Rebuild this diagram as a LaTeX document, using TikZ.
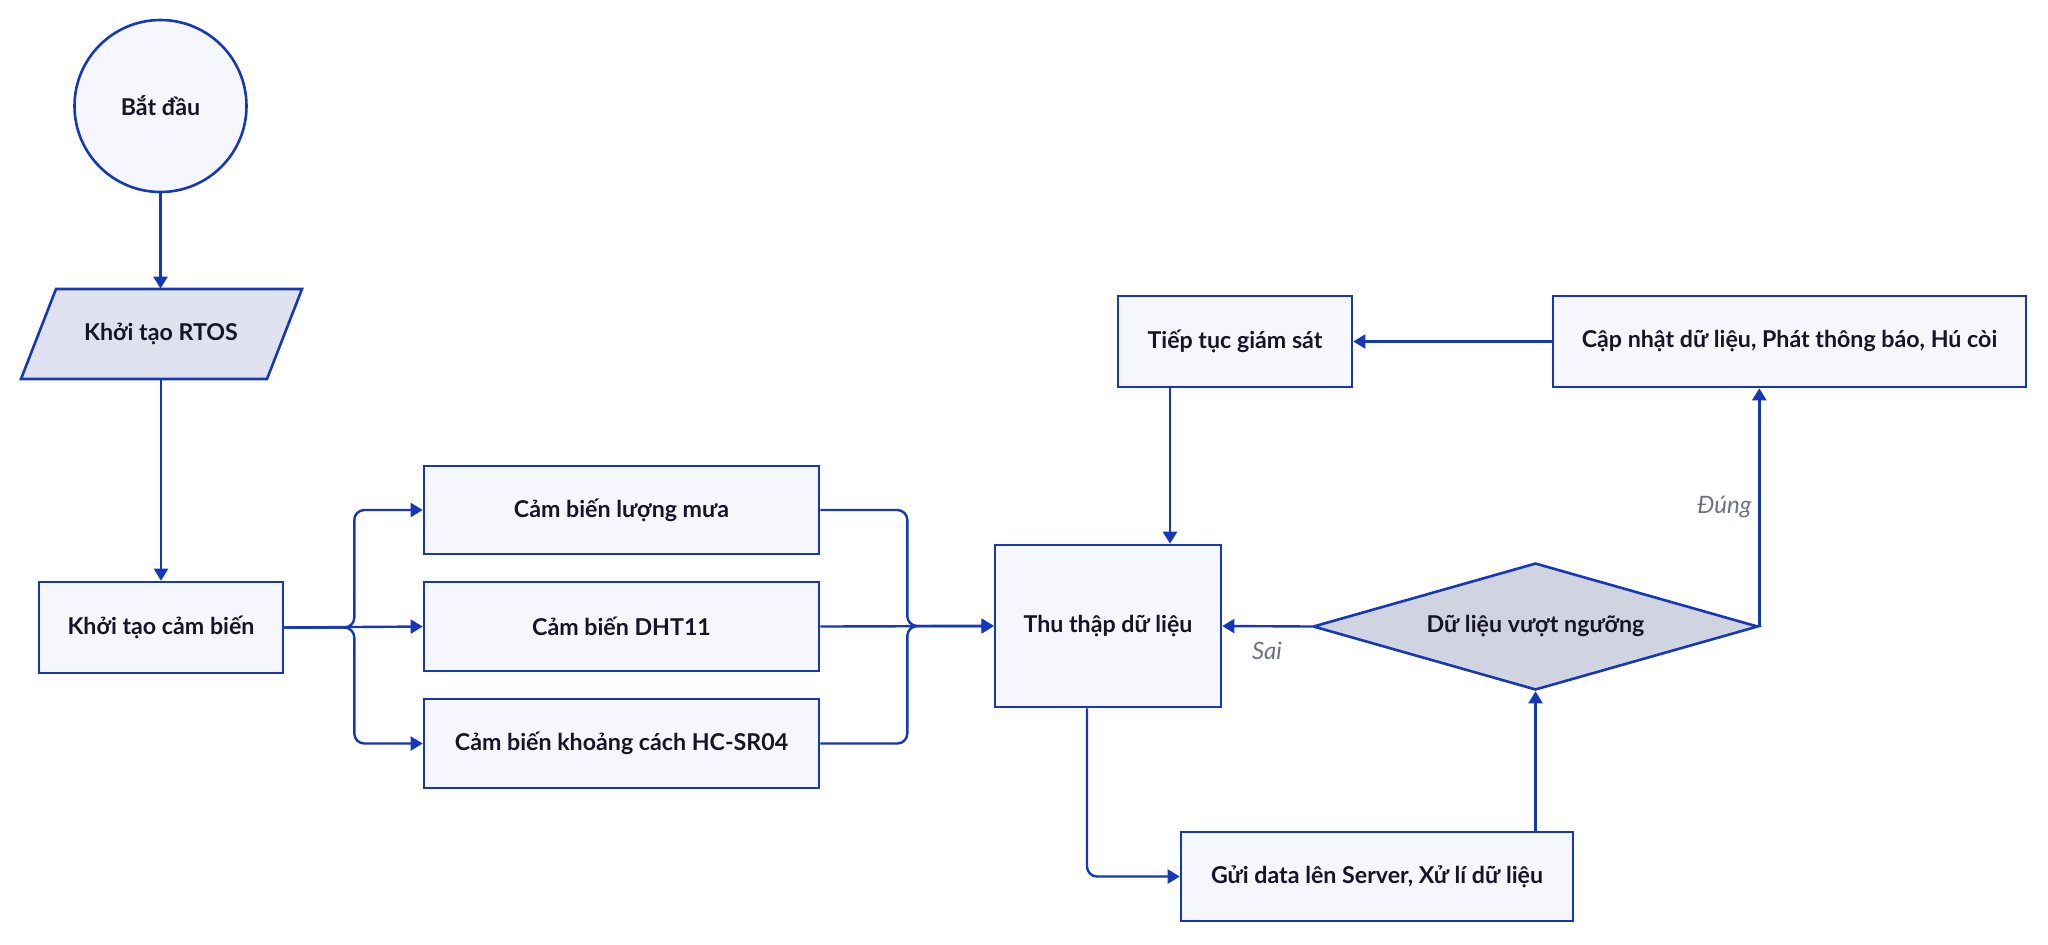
\documentclass[tikz,border=0pt]{standalone}
\usepackage{fontspec}
\setmainfont{Lato}
\usepackage{tikz}
\usetikzlibrary{shapes.geometric,arrows.meta}
\definecolor{lineblue}{RGB}{22,56,184}
\definecolor{boxfill}{RGB}{246,247,252}
\definecolor{iofill}{RGB}{223,226,238}
\definecolor{decfill}{RGB}{208,211,224}
\definecolor{textdark}{RGB}{20,22,40}
\definecolor{labelgray}{RGB}{110,113,128}
\tikzset{
% Node styles for the flow chart: process, start, input and decision
proc node/.style={rectangle,draw=lineblue,fill=boxfill,line width=1.3pt,inner sep=0,text=textdark},
start node/.style={circle,draw=lineblue,fill=boxfill,line width=1.3pt,minimum size=86pt,inner sep=0,text=textdark},
io shape/.style={draw=lineblue,fill=iofill,line width=1.3pt,line join=miter},
decision node/.style={diamond,aspect=3.5,draw=lineblue,fill=decfill,line width=1.3pt,inner sep=0,text=textdark},
flow line/.style={draw=lineblue,line width=1.2pt,-{Triangle[length=6pt,width=7pt]}},
branch label/.style={text=labelgray,font=\fontsize{12}{14}\selectfont\itshape}
}

\begin{document}
\begin{tikzpicture}[x=0.5pt,y=-0.5pt,font=\fontsize{11.6}{14}\selectfont\bfseries]
\useasboundingbox (0,0) rectangle (2048,944);
% Left column
\node(start)[start node] at (160.5,106) {Bắt đầu};
\draw[io shape] (21,379)--(56,289)--(302,289)--(267,379)--cycle;
\node(rtos)[text=textdark,minimum height=45pt,inner sep=0] at (161,334) {Khởi tạo RTOS};
\node(init)[proc node,minimum width=122pt,minimum height=45.5pt] at (161,627.5) {Khởi tạo cảm biến};
% Sensors
\node(rain)[proc node,minimum width=197.5pt,minimum height=44pt] at (621.5,510) {Cảm biến lượng mưa};
\node(dht)[proc node,minimum width=197.5pt,minimum height=44.5pt] at (621.5,626.5) {Cảm biến DHT11};
\node(hc)[proc node,minimum width=197.5pt,minimum height=44.5pt] at (621.5,743.5) {Cảm biến khoảng cách HC-SR04};
% Processing loop
\node(collect)[proc node,minimum width=113pt,minimum height=81pt] at (1108,626) {Thu thập dữ liệu};
\node(check)[decision node,minimum width=222.5pt,minimum height=63.5pt] at (1535.5,626.5) {Dữ liệu vượt ngưỡng};
\node(send)[proc node,minimum width=196pt,minimum height=44.5pt] at (1377,876.5) {Gửi data lên Server, Xử lí dữ liệu};
\node(cont)[proc node,minimum width=117pt,minimum height=45.5pt] at (1235,341.5) {Tiếp tục giám sát};
\node(update)[proc node,minimum width=236.5pt,minimum height=45.5pt] at (1789.5,341.5) {Cập nhật dữ liệu, Phát thông báo, Hú còi};
% Connectors
\draw[flow line](start)--(start|-rtos.north);
\draw[flow line](rtos.south)--(init.north);
\draw[flow line,rounded corners=5pt](init.east)--++(70,0)|-(rain.west);
\draw[flow line](init.east)--(dht.west);
\draw[flow line,rounded corners=5pt](init.east)--++(70,0)|-(hc.west);
\draw[flow line,rounded corners=5pt](rain.east)--++(87,0)|-(collect.west);
\draw[flow line](dht.east)--(collect.west);
\draw[flow line,rounded corners=5pt](hc.east)--++(87,0)|-(collect.west);
\draw[flow line,rounded corners=5pt]([xshift=-10.5pt]collect.south)|-(send.west);
\draw[flow line](send.north-|check.south)--(check.south);
\draw[flow line](check.west)--(collect.east) node[midway,below=4pt,branch label]{Sai};
\draw[flow line](check.east)--(check.east|-update.south) node[midway,left,branch label]{Đúng};
\draw[flow line](update.west)--(cont.east);
\draw[flow line]([xshift=-32.5pt]cont.south)--([xshift=-32.5pt]cont.south|-collect.north);
\end{tikzpicture}
\end{document}
